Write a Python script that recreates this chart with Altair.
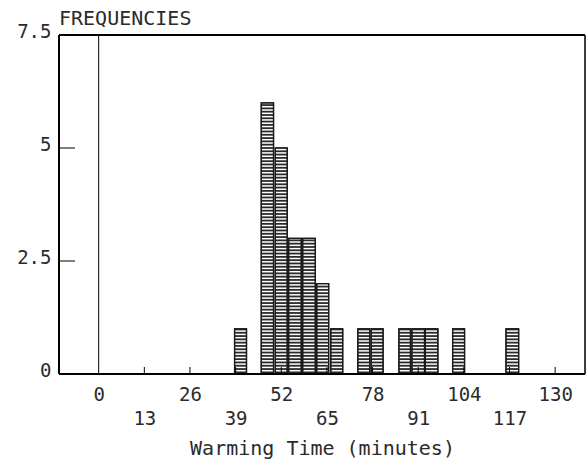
import altair as alt
import numpy as np
import pandas as pd

# ---- data ----
bin_start = [38.7, 46.3, 50.3, 54.1, 58.1, 62.1, 66.1, 73.8, 77.6, 85.5, 89.2, 93.0, 100.8, 116.0]
bin_end   = [42.1, 49.8, 53.7, 57.7, 61.7, 65.5, 69.5, 77.2, 81.0, 88.8, 92.8, 96.6, 104.2, 119.6]
counts    = [1, 6, 5, 3, 3, 2, 1, 1, 1, 1, 1, 1, 1, 1]

x_tick_values = [0, 13, 26, 39, 52, 65, 78, 91, 104, 117, 130]
y_tick_values = [0, 2.5, 5, 7.5]
y_inner_ticks = [2.5, 5]

FONT = "DejaVu Sans Mono"
INK = "#000000"
TXT = "#2b2b2b"
W, H = 526, 339

bars = pd.DataFrame({"lo": bin_start, "hi": bin_end, "n": counts})

# horizontal hatching inside each bar (derived from the counts)
hatch_step = 0.073
rows = []
for lo, hi, n in zip(bin_start, bin_end, counts):
    for lev in np.arange(hatch_step / 2, n, hatch_step):
        rows.append({"lo": lo, "hi": hi, "lev": float(lev)})
hatch = pd.DataFrame(rows)

xscale = alt.Scale(domain=[-11.3, 138.5], nice=False, zero=False)
yscale = alt.Scale(domain=[0, 7.5], nice=False)

xaxis = alt.Axis(
    values=x_tick_values,
    title="Warming Time (minutes)",
    titleFont=FONT, titleFontSize=20, titleFontWeight="normal", titleColor=TXT,
    titlePadding=10,
    labelFont=FONT, labelFontSize=19, labelColor=TXT,
    labelPadding={"condition": {"test": "datum.value % 26 !== 0", "value": 35}, "value": 11},
    labelFlush=False, labelOverlap=False,
    ticks=False, domain=False, grid=False,
)
yaxis = alt.Axis(
    values=y_tick_values, title=None,
    labelExpr="format(datum.value, '.1~f')",
    labelFont=FONT, labelFontSize=19, labelColor=TXT, labelPadding=8,
    labelOffset=-4,
    ticks=False, domain=False, grid=False,
)

base_bars = alt.Chart(bars)

outline = base_bars.mark_rect(fill="white", stroke="#1a1a1a", strokeWidth=1.2).encode(
    x=alt.X("lo:Q", scale=xscale, axis=xaxis),
    x2="hi:Q",
    y=alt.Y("n:Q", scale=yscale, axis=yaxis),
    y2=alt.datum(0),
)

hatch_lines = alt.Chart(hatch).mark_rule(color="#2a2a2a", strokeWidth=1.8).encode(
    x=alt.X("lo:Q", scale=xscale),
    x2="hi:Q",
    y=alt.Y("lev:Q", scale=yscale),
)

bar_edges = base_bars.mark_rect(fill=None, stroke="#1a1a1a", strokeWidth=1.3).encode(
    x=alt.X("lo:Q", scale=xscale),
    x2="hi:Q",
    y=alt.Y("n:Q", scale=yscale),
    y2=alt.datum(0),
)

zero_line = alt.Chart(pd.DataFrame({"v": [0]})).mark_rule(color=INK, strokeWidth=1).encode(
    x=alt.X("v:Q", scale=xscale)
)

yticks_in = alt.Chart(pd.DataFrame({"v": y_inner_ticks})).mark_rule(color=INK, strokeWidth=1).encode(
    y=alt.Y("v:Q", scale=yscale), x=alt.value(0), x2=alt.value(16)
)

xticks_in = alt.Chart(pd.DataFrame({"v": x_tick_values[1:]})).mark_rule(color=INK, strokeWidth=1).encode(
    x=alt.X("v:Q", scale=xscale), y=alt.value(H), y2=alt.value(H - 7)
)

# plot frame (box around the plotting area)
frame_src = alt.Chart(pd.DataFrame({"k": [0]}))
frame_left = frame_src.mark_rule(color=INK, strokeWidth=2).encode(x=alt.value(0), y=alt.value(0), y2=alt.value(H))
frame_right = frame_src.mark_rule(color=INK, strokeWidth=1.5).encode(x=alt.value(W), y=alt.value(0), y2=alt.value(H))
frame_top = frame_src.mark_rule(color=INK, strokeWidth=1.8).encode(y=alt.value(0), x=alt.value(0), x2=alt.value(W))
frame_bottom = frame_src.mark_rule(color=INK, strokeWidth=1.8).encode(y=alt.value(H), x=alt.value(0), x2=alt.value(W))

chart = (
    alt.layer(outline, hatch_lines, bar_edges, zero_line, yticks_in, xticks_in,
              frame_left, frame_right, frame_top, frame_bottom)
    .properties(
        width=W,
        height=H,
        padding={"left": 59, "top": 35, "right": 2, "bottom": 88},
        autosize=alt.AutoSizeParams(type="none"),
        title=alt.TitleParams(
            "FREQUENCIES", anchor="start", frame="group", font=FONT, fontSize=20,
            fontWeight="normal", color=TXT, offset=-7,
        ),
    )
    .configure_view(strokeWidth=0)
    .configure(background="white")
)

chart.save("out.html", embed_options={"renderer": "svg", "actions": False})
